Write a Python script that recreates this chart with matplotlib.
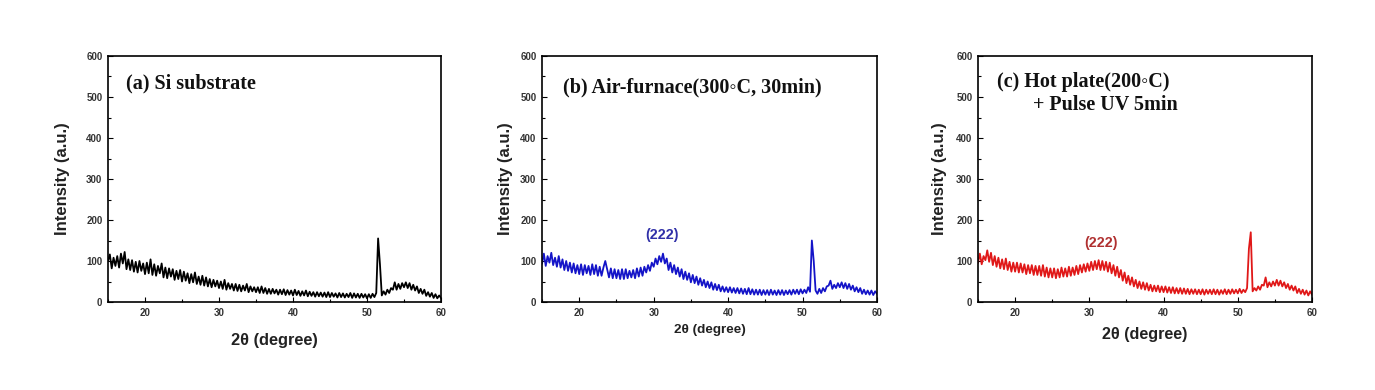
import numpy as np
import matplotlib
matplotlib.use("Agg")
import matplotlib.pyplot as plt
from matplotlib.ticker import MultipleLocator

# 2-theta grid (degrees), 0.25 deg step from 15 to 60
two_theta = np.arange(15.0, 60.001, 0.25)

si_substrate = [
    100, 116, 82, 108,  88, 112, 84, 118,  94, 122, 80, 104,  78, 102, 74, 98,
    72, 100, 76, 94,  68, 96, 70, 104,  66, 92, 64, 88,  70, 94, 60, 84,
    58, 82, 62, 80,  54, 76, 56, 78,  50, 74, 52, 70,  46, 68, 48, 72,
    44, 62, 42, 64,  40, 60, 38, 56,  36, 54, 38, 52,  34, 50, 32, 54,
    30, 46, 32, 44,  28, 44, 27, 42,  26, 40, 28, 44,  24, 38, 26, 36,
    24, 36, 22, 38,  22, 34, 20, 32,  20, 32, 21, 30,  18, 30, 19, 31,
    17, 29, 18, 28,  16, 30, 17, 27,  15, 26, 16, 28,  14, 25, 15, 24,
    13, 24, 14, 23,  13, 23, 12, 24,  12, 22, 13, 21,  11, 22, 12, 21,
    11, 20, 12, 22,  10, 21, 11, 20,  10, 20, 11, 19,  9, 19, 10, 20,
    12, 22, 155, 92,  16, 26, 18, 30,  22, 34, 30, 48,  30, 44, 32, 46,
    36, 48, 34, 46,  30, 42, 28, 38,  22, 32, 20, 30,  15, 24, 13, 22,
    10, 19, 9, 16,  10,
]

air_furnace = [
    94, 118, 88, 112,  96, 120, 90, 108,  86, 112, 84, 104,  78, 100, 76, 96,
    72, 94, 70, 90,  68, 92, 66, 90,  70, 88, 66, 92,  68, 90, 64, 86,
    64, 84, 100, 80,  60, 82, 58, 80,  58, 78, 56, 80,  56, 80, 58, 76,
    60, 78, 58, 82,  62, 84, 64, 86,  72, 90, 76, 96,  86, 106, 92, 112,
    98, 118, 94, 106,  78, 96, 72, 90,  68, 84, 62, 80,  56, 74, 54, 70,
    48, 66, 46, 62,  42, 58, 40, 54,  36, 50, 34, 48,  30, 44, 29, 42,
    26, 38, 25, 36,  24, 36, 23, 34,  22, 34, 21, 33,  20, 32, 19, 34,
    19, 31, 18, 30,  18, 30, 17, 29,  18, 29, 17, 30,  18, 28, 17, 29,
    18, 29, 17, 28,  19, 29, 18, 30,  20, 30, 19, 31,  21, 30, 22, 36,
    25, 150, 100, 28,  20, 32, 22, 34,  26, 38, 40, 52,  32, 42, 34, 46,
    36, 48, 34, 46,  32, 44, 30, 40,  26, 36, 24, 34,  20, 30, 19, 28,
    18, 28, 17, 26,  20,
]

hot_plate_uv = [
    96, 118, 92, 112,  102, 126, 98, 120,  90, 112, 86, 108,  82, 104, 80, 106,
    78, 98, 74, 96,  74, 96, 72, 94,  72, 92, 68, 90,  70, 90, 66, 88,
    66, 88, 64, 90,  62, 84, 60, 82,  60, 82, 58, 80,  60, 84, 62, 82,
    62, 86, 64, 84,  66, 88, 68, 90,  72, 92, 74, 94,  76, 98, 78, 100,
    80, 102, 78, 100,  78, 98, 74, 96,  70, 90, 64, 86,  60, 78, 52, 72,
    46, 64, 42, 60,  38, 54, 34, 50,  32, 48, 30, 46,  28, 42, 26, 40,
    26, 40, 24, 38,  24, 38, 23, 36,  22, 36, 21, 34,  21, 34, 20, 33,
    20, 32, 19, 31,  20, 31, 19, 30,  19, 31, 18, 30,  20, 30, 19, 31,
    19, 30, 18, 29,  20, 31, 19, 30,  20, 31, 21, 30,  21, 32, 22, 30,
    24, 34, 130, 170,  26, 34, 28, 38,  30, 42, 40, 60,  36, 48, 38, 50,
    40, 54, 40, 52,  38, 48, 34, 44,  30, 40, 28, 38,  22, 32, 20, 30,
    18, 28, 16, 26,  18,
]

series = [si_substrate, air_furnace, hot_plate_uv]
colors = ["#000000", "#1414c8", "#e01818"]
titles = [["(a) Si substrate"],
          ["(b) Air-furnace(300\u25e6C, 30min)"],
          ["(c) Hot plate(200\u25e6C)", "+ Pulse UV 5min"]]
peak_labels = [None, ("(222)", 31.1, 163, "#3030a8"), ("(222)", 31.6, 145, "#b03030")]

fig = plt.figure(figsize=(13.75, 3.9), dpi=100)
W, H = 1375, 390
boxes = [(108, 56, 333, 246), (542, 56, 335, 246), (978, 56, 334, 246)]
ylab_x = [-0.114, -0.087, -0.093]
xlab_y = [-0.126, -0.089, -0.102]
xlab_size = [11.8, 9.7, 11.6]
title_pos = [[(126, 83)], [(563, 87)], [(997, 82), (1033, 105)]]

sans = ["Liberation Sans", "DejaVu Sans"]
serif = ["Liberation Serif", "DejaVu Serif"]

for i, (l, t, w, h) in enumerate(boxes):
    ax = fig.add_axes([l / W, (H - t - h) / H, w / W, h / H])
    ax.plot(two_theta, series[i], color=colors[i], lw=1.3)
    ax.set_xlim(15, 60)
    ax.set_ylim(0, 600)
    ax.xaxis.set_major_locator(MultipleLocator(10))
    ax.xaxis.set_minor_locator(MultipleLocator(5))
    ax.yaxis.set_major_locator(MultipleLocator(100))
    ax.yaxis.set_minor_locator(MultipleLocator(50))
    ax.tick_params(which="both", direction="in", top=False, right=False,
                   labelsize=7, labelcolor="#333333", width=0.8)
    ax.tick_params(which="major", length=3.5, pad=4)
    ax.tick_params(which="minor", length=2)
    for lab in ax.get_xticklabels() + ax.get_yticklabels():
        lab.set_fontweight("bold")
        lab.set_family(sans)
    for sp in ax.spines.values():
        sp.set_linewidth(1.2)
    ax.set_ylabel("Intensity (a.u.)", fontsize=12, fontweight="bold",
                  family=sans, color="#222222")
    ax.yaxis.set_label_coords(ylab_x[i], 0.5)
    ax.set_xlabel("2\u03b8 (degree)", fontsize=xlab_size[i], fontweight="bold",
                  family=sans, color="#222222")
    ax.xaxis.set_label_coords(0.5, xlab_y[i])
    for txt, (px, py) in zip(titles[i], title_pos[i]):
        fig.text(px / W, 1 - py / H, txt, fontsize=14.5, fontweight="bold",
                 family=serif, ha="left", va="center", color="#111111")
    if peak_labels[i]:
        s, xx, yy, c = peak_labels[i]
        ax.text(xx, yy, s, color=c, fontsize=10.3, fontweight="bold",
                family=sans, ha="center", va="center")

fig.savefig("out.png", dpi=100)
